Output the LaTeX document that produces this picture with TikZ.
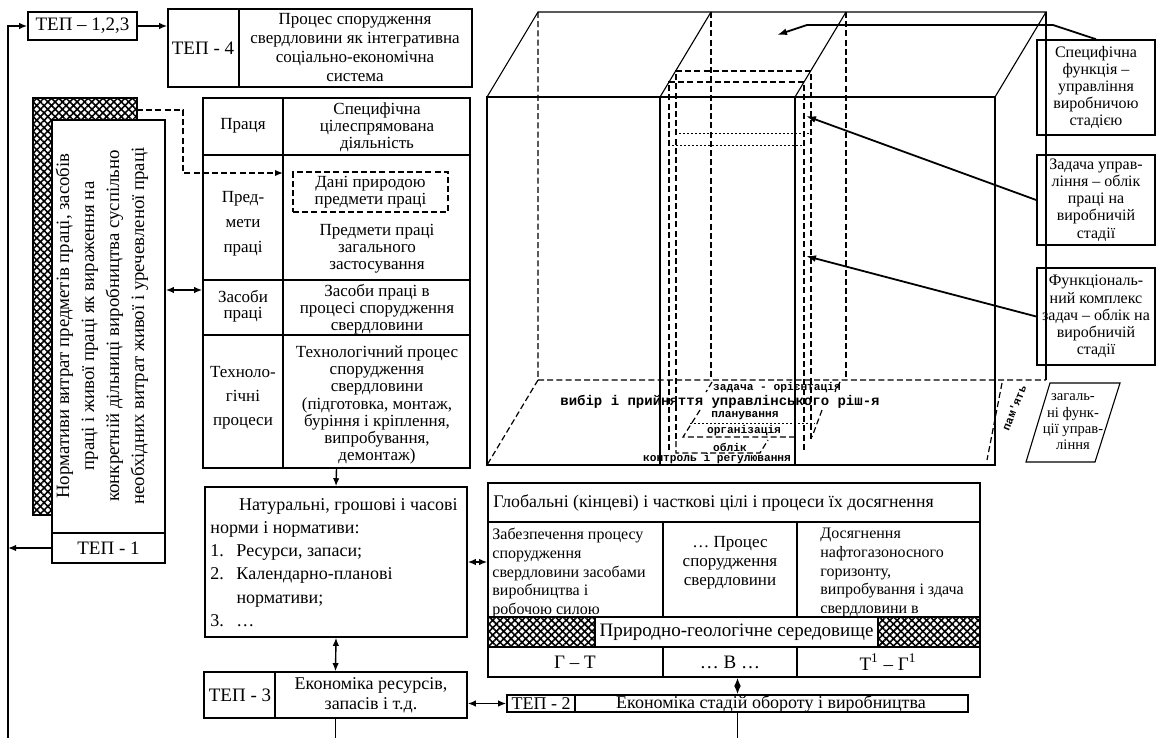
\documentclass[tikz,border=0pt]{standalone}
\usepackage{fontspec}
\setmainfont{Liberation Serif}
\newfontfamily\typeFont{Liberation Mono}
\usetikzlibrary{arrows.meta}
\usetikzlibrary{fit}
\usetikzlibrary{patterns.meta}
\newcommand{\sz}[2]{\fontsize{#1}{#2}\selectfont}
\newcommand{\itemNo}[1]{\makebox[1.45em][l]{#1}}
\newcommand{\boxNode}[7]{%%
  %% A framed box fitted to two corners, its text in the middle.
  \node[boxStyle,fit={(#2,#3) (#4,#5)}] (#1) {};
  \node[cellStyle,font=#6] (#1Text) at (#1.center) {#7};
}
\newcommand{\labelBox}[6]{%%
  %% A framed label at the right side of the cube.
  \boxNode{#1}{#2}{#3}{#4}{#5}{\sz{8}{8.6}}{#6}
}

\begin{document}
\begin{tikzpicture}[%%
  x=0.5pt,y=-0.5pt,
  boxStyle/.style={draw,line width=0.8pt,inner sep=0pt},
  lineStyle/.style={line width=0.8pt},
  edgeStyle/.style={line width=0.55pt},
  dashStyle/.style={line width=0.6pt,dash pattern=on 3pt off 1.6pt},
  dotStyle/.style={line width=0.4pt,dash pattern=on 0.8pt off 1.2pt},
  arrowStyle/.style={-{Latex[length=4pt,width=3.2pt]},line width=0.7pt},
  bothStyle/.style={{Latex[length=4pt,width=3.2pt]}-{Latex[length=4pt,width=3.2pt]},line width=0.7pt},
  leaderStyle/.style={-{Latex[length=5pt,width=3.4pt]},line width=0.9pt},
  hatchStyle/.style={fill=white,postaction={pattern={Hatch[angle=45,distance=2.6pt,line width=0.8pt]}}},
  cellStyle/.style={align=center,inner sep=0pt,font=\sz{8.5}{8.6}},
  leftStyle/.style={align=left,inner sep=0pt,anchor=north west},
  floorStyle/.style={inner sep=0pt,font=\typeFont\bfseries\sz{5.6}{6}}
]
\useasboundingbox (0,0) rectangle (1161,738);
%%
%% Top row: the indices.
\boxNode{tep123}{28}{12}{137}{40}{\sz{9.5}{10}}{ТЕП – 1,2,3}
\node[boxStyle,fit={(168,9) (472,87)}] (tep4) {};
\draw[lineStyle] (239,9) -- (239,87);
\node[cellStyle,font=\sz{9.5}{10}] (tep4Label) at (203,48) {ТЕП - 4};
\node[cellStyle,font=\sz{8.5}{9.5}] (tep4Text) at (355,48) {Процес спорудження\\свердловини як інтегративна\\соціально-економічна\\система};
\draw[arrowStyle] (tep123.east) -- (tep4.west |- tep123.east);
%%
%% The norms of expenditure.
\draw[hatchStyle,lineStyle] (33,98) -- (137,98) -- (137,120) -- (52,120) -- (52,515) -- (33,515) -- cycle;
\node[boxStyle,fill=white,fit={(52,120) (165,533)}] (norms) {};
\node[cellStyle,rotate=90,font=\sz{9.4}{12.5}] (normsText) at (102,326) {Нормативи витрат предметів праці, засобів\\праці і живої праці як вираження на\\конкретній дільниці виробництва суспільно\\необхідних витрат живої і уречевленої праці};
\boxNode{tep1}{52}{533}{165}{563}{\sz{9.5}{10}}{ТЕП - 1}
%%
%% The feedback line at the left.
\coordinate (loopTop) at (8,26);
\coordinate (loopBottom) at (8,738);
\draw[arrowStyle] (loopBottom) -- (loopTop) -- (tep123.west);
\draw[arrowStyle] (tep1.west) -- (tep1.west -| loopTop);
%%
%% The table of the labour process.
\node[boxStyle,fit={(203,98) (470,468)}] (table) {};
\draw[lineStyle] (283,98) -- (283,468);
\foreach \y in {155,280,335} \draw[lineStyle] (203,\y) -- (470,\y);
\node[cellStyle] (labour) at (243,126) {Праця};
\node[cellStyle] (labourText) at (377,127) {Специфічна\\цілеспрямована\\діяльність};
\node[cellStyle,font=\sz{8.5}{12.5}] (objects) at (243,224) {Пред-\\мети\\праці};
\node[boxStyle,dashStyle,fit={(293,172) (448,212)}] (dataBox) {};
\node[cellStyle] (dataBoxText) at (dataBox.center) {Дані природою\\предмети праці};
\node[cellStyle] (objectsText) at (377,249) {Предмети праці\\загального\\застосування};
\node[cellStyle,font=\sz{8.5}{7.8}] (means) at (243,306) {Засоби\\праці};
\node[cellStyle] (meansText) at (377,309) {Засоби праці в\\процесі спорудження\\свердловини};
\node[cellStyle,font=\sz{8.5}{12}] (process) at (243,398) {Техноло-\\гічні\\процеси};
\node[cellStyle] (processText) at (377,405) {Технологічний процес\\спорудження\\свердловини\\(підготовка, монтаж,\\буріння і кріплення,\\випробування,\\демонтаж)};
\coordinate (hatchCorner) at (137,110);
\coordinate (dataArrow) at (283,173);
\draw[dashStyle,arrowStyle] (hatchCorner) -- (183,110) -- (183,173) -- (dataArrow);
\coordinate (normsLink) at (184,290);
\draw[bothStyle] (norms.east |- normsLink) -- (table.west |- normsLink);
%%
%% Natural, money and time norms.
\node[boxStyle,fit={(205,487) (467,637)}] (standards) {};
\node[leftStyle,font=\sz{9}{11.6}] (standardsText) at (210,498) {\hspace*{1.6em}Натуральні, грошові і часові\\норми і нормативи:\\\itemNo{1.}Ресурси, запаси;\\\itemNo{2.}Календарно-планові\\\itemNo{}нормативи;\\\itemNo{3.}\dots};
\draw[arrowStyle] (table.south) -- (standards.north);
%%
%% TEP 3.
\node[boxStyle,fit={(204,672) (467,718)}] (tep3) {};
\draw[lineStyle] (275,672) -- (275,718);
\node[cellStyle,font=\sz{9.5}{10}] (tep3Label) at (240,695) {ТЕП - 3};
\node[cellStyle,font=\sz{9}{10}] (tep3Text) at (371,695) {Економіка ресурсів,\\запасів і т.д.};
\draw[bothStyle] (standards.south) -- (tep3.north);
\draw[edgeStyle] (tep3.south) -- (tep3.south |- loopBottom);
%%
%% TEP 2.
\node[boxStyle,fit={(507,695) (968,712)}] (tep2) {};
\draw[lineStyle] (575,695) -- (575,712);
\node[cellStyle,font=\sz{9}{10}] (tep2Label) at (541,703.5) {ТЕП - 2};
\node[cellStyle,font=\sz{9}{10}] (tep2Text) at (771,703.5) {Економіка стадій обороту і виробництва};
\draw[bothStyle] (tep3.east |- tep2.west) -- (tep2.west);
\draw[edgeStyle] (tep2.south) -- (tep2.south |- loopBottom);
%%
%% Goals and the processes of reaching them.
\node[boxStyle,fit={(488,483) (980,677)}] (goals) {};
\draw[lineStyle] (488,522) -- (980,522);
\draw[lineStyle] (663,522) -- (663,617) (797,522) -- (797,617);
\node[leftStyle,font=\sz{8.9}{9}] (goalsTitle) at (493,494) {Глобальні (кінцеві) і часткові цілі і процеси їх досягнення};
\node[leftStyle,font=\sz{8}{9.3}] (supplyText) at (492,528) {Забезпечення процесу\\спорудження\\свердловини засобами\\виробництва і\\робочою силою};
\node[cellStyle,font=\sz{8.5}{9.5}] (drillText) at (730,563) {\dots\ Процес\\спорудження\\свердловини};
\node[leftStyle,font=\sz{8}{9.3}] (horizonText) at (820,528) {Досягнення\\нафтогазоносного\\горизонту,\\випробування і здача\\свердловини в};
%% the environment strip covers the last lines
\draw[hatchStyle,lineStyle] (488,617) rectangle (980,647);
\node[boxStyle,fill=white,fit={(595,617) (878,647)}] (geology) {};
\node[cellStyle,font=\sz{9.5}{10}] (geologyText) at (geology.center) {Природно-геологічне середовище};
\draw[lineStyle] (663,647) -- (663,677) (797,647) -- (797,677);
\node[cellStyle,font=\sz{9.5}{10}] (gt) at (575,662) {Г – Т};
\node[cellStyle,font=\sz{9.5}{10}] (vv) at (730,662) {\dots\ В \dots};
\node[cellStyle,font=\sz{9.5}{10}] (tg) at (888,662) {Т\textsuperscript{1} – Г\textsuperscript{1}};
\draw[bothStyle] (standards.east) -- (standards.east -| goals.west);
\draw[bothStyle] (tep2.north |- goals.south) -- (tep2.north);
%%
%% The cube of the management functions.
\draw[edgeStyle] (487,97) rectangle (995,465);
\draw[edgeStyle] (487,97) -- (538,12) -- (1046,12) -- (995,97);
\draw[edgeStyle] (1046,12) -- (1046,380);
\draw[edgeStyle] (660,97) -- (711,12) (795,97) -- (846,12);
\draw[edgeStyle] (660,97) -- (660,465) (795,97) -- (795,465);
\draw[dashStyle] (538,12) -- (538,380) -- (1046,380) (538,380) -- (487,465);
\draw[dashStyle] (711,12) -- (711,380) (846,12) -- (846,380);
%% slices inside the middle layer
\draw[dashStyle] (669,450) -- (669,82) -- (804,82) -- (804,450);
\draw[dashStyle] (676,439) -- (676,71) -- (811,71) -- (811,439);
\draw[dotStyle] (675,133) -- (810,133) (668,145) -- (805,145);
\draw[dashStyle] (712,382) -- (706,392) (840,382) -- (835,392);
\draw[dashStyle] (700,410) -- (683,437) -- (797,437) (822,410) -- (812,437);
\draw[dotStyle] (690,423) -- (815,423);
\draw[dashStyle] (676,441) -- (676,453) -- (760,453) -- (768,440);
\node[floorStyle] (floorTask) at (777,388) {задача - орієнтація};
\node[floorStyle,font=\typeFont\bfseries\sz{7}{7}] (floorChoice) at (720,402) {вибір і прийняття управлінського ріш-я};
\node[floorStyle] (floorPlan) at (745,416) {планування};
\node[floorStyle] (floorOrg) at (744,431) {організація};
\node[floorStyle] (floorCount) at (730,447) {облік};
\node[floorStyle] (floorControl) at (717,459) {контроль і регулювання};
%% memory and the general functions
\draw[dashStyle] (1002,383) -- (987,460);
\node[floorStyle,rotate=68] (memory) at (1014,408) {пам'ять};
\draw[edgeStyle] (1050,383) -- (1120,383) -- (1095,462) -- (1026,462) -- cycle;
\node[cellStyle,font=\sz{7.3}{8.2}] (generalFns) at (1073,422) {загаль-\\ні функ-\\ції управ-\\ління};
%%
%% Labels at the right.
\labelBox{specFn}{1037}{40}{1155}{135}{Специфічна\\функція –\\управління\\виробничою\\стадією}
\labelBox{taskFn}{1037}{155}{1155}{245}{Задача управ-\\ління – облік\\праці на\\виробничій\\стадії}
\labelBox{complexFn}{1037}{268}{1155}{365}{Функціональ-\\ний комплекс\\задач – облік на\\виробничій\\стадії}
\coordinate (specBend) at (1053,25);
\coordinate (specRun) at (807,25);
\coordinate (specTip) at (777,35);
\coordinate (taskTip) at (806,116);
\coordinate (complexTip) at (806,256);
\draw[leaderStyle] (specFn.north) -- (specBend) -- (specRun) -- (specTip);
\draw[leaderStyle] (taskFn.west) -- (taskTip);
\draw[leaderStyle] (complexFn.west) -- (complexTip);
\end{tikzpicture}
\end{document}
